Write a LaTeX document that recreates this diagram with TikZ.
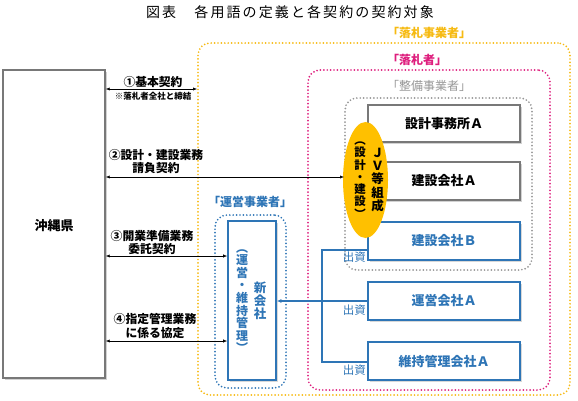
\documentclass[tikz,border=0pt]{standalone}
\usepackage{fontspec}
\setmainfont{Noto Sans CJK JP}
\usetikzlibrary{arrows.meta,shapes.geometric,shadows}
\definecolor{corange}{RGB}{246,186,18}
\definecolor{cmag}{RGB}{222,30,125}
\definecolor{cgray}{RGB}{150,150,150}
\definecolor{cblue}{RGB}{46,117,182}
\definecolor{cyel}{RGB}{255,192,0}
\definecolor{cbox}{RGB}{120,120,120}
\tikzset{
  dotline/.style={line width=1.9pt, dash pattern=on 0pt off 3.4pt, line cap=round, rounded corners=12pt, inner sep=0pt},
  gbox/.style={draw=cbox, line width=1.4pt, fill=white, inner sep=0pt,
     drop shadow={shadow xshift=1.5pt, shadow yshift=-1.5pt, fill=black!35}},
  bbox/.style={draw=cblue, line width=1.8pt, fill=white, inner sep=0pt, text=cblue,
     drop shadow={shadow xshift=1.5pt, shadow yshift=-1.5pt, fill=black!30}},
  boxtxt/.style={font=\bfseries\fontsize{13}{15}\selectfont},
  lbl/.style={font=\bfseries\fontsize{11.8}{13}\selectfont, inner sep=0pt},
  dbl/.style={{Latex[length=4pt,width=3.2pt]}-{Latex[length=4pt,width=3.2pt]}, line width=0.6pt},
  bline/.style={draw=cblue, line width=1.1pt},
  vtxt/.style={align=center, inner sep=0pt},
  ttl/.style={inner sep=0pt, anchor=west, font=\bfseries\fontsize{12}{14}\selectfont},
  shusshi/.style={inner sep=0pt, anchor=north east, text=cblue, font=\fontsize{11.5}{12}\selectfont}
}
\begin{document}
\begin{tikzpicture}[x=1pt,y=-1pt]
\useasboundingbox (0,0) rectangle (578,400);

% title
\node[inner sep=0pt, font=\fontsize{14}{16}\selectfont\addfontfeature{LetterSpace=15}] (title) at (290,12) {図表　各用語の定義と各契約の契約対象};

% group frames
\node[dotline, draw=corange, minimum width=372pt, minimum height=352pt] (rakusatsujigyo) at (384,219) {};
\node[dotline, draw=cmag, minimum width=242pt, minimum height=320pt] (rakusatsusha) at (429,230) {};
\node[dotline, draw=cgray, minimum width=187pt, minimum height=172pt] (seibi) at (438.5,184) {};
\node[dotline, draw=cblue, minimum width=71pt, minimum height=173pt] (unei) at (250.5,301.5) {};

% group labels
\node[ttl, text=corange] (l1) at (387,33) {「落札事業者」};
\node[ttl, text=cmag] (l2) at (387,60) {「落札者」};
\node[ttl, text=cgray, font=\fontsize{12}{14}\selectfont] (l3) at (387,86) {「整備事業者」};
\node[ttl, text=cblue, anchor=center] (l4) at (250,202) {「運営事業者」};

% left box
\node[gbox, minimum width=102pt, minimum height=308pt] (okinawa) at (54,224) {};
\node[boxtxt, inner sep=0pt] (okinawaT) at (54,226) {沖縄県};

% company boxes
\node[gbox, boxtxt, minimum width=152pt, minimum height=37pt] (sekkeiA) at (444,123.5) {設計事務所Ａ};
\node[gbox, boxtxt, minimum width=152pt, minimum height=38pt] (kensetsuA) at (444,181) {建設会社Ａ};
\node[bbox, boxtxt, minimum width=152pt, minimum height=38pt] (kensetsuB) at (444,241) {建設会社Ｂ};
\node[bbox, boxtxt, minimum width=152pt, minimum height=38pt] (uneiA) at (444,301) {運営会社Ａ};
\node[bbox, boxtxt, minimum width=152pt, minimum height=38pt] (ijiA) at (444,361) {維持管理会社Ａ};

% JV ellipse
\node[ellipse, fill=cyel, minimum width=45pt, minimum height=116pt, inner sep=0pt] (jv) at (365.5,180) {};
\node[vtxt, font=\bfseries\fontsize{11.5}{12.3}\selectfont] (jvL) at (360,180) {︵\\設\\計\\・\\建\\設\\︶};
\node[vtxt, font=\bfseries\fontsize{12.5}{13.2}\selectfont] (jvR) at (377.5,180) {Ｊ\\Ｖ\\等\\組\\成};

% new company
\node[bbox, minimum width=48pt, minimum height=159pt, line width=1.6pt] (shinkaisha) at (252,300.5) {};
\node[vtxt, text=cblue, font=\bfseries\fontsize{12}{12.6}\selectfont] (skL) at (242,301) {︵\\運\\営\\・\\維\\持\\管\\理\\︶};
\node[vtxt, text=cblue, font=\bfseries\fontsize{12.5}{13}\selectfont] (skR) at (260,301) {新\\会\\社};

% contracts
\draw[dbl] (okinawa.east |- 0,89) -- (rakusatsujigyo.west |- 0,89);
\node[lbl] (c1) at (153,82) {①基本契約};
\node[inner sep=0pt, font=\bfseries\fontsize{8.5}{10}\selectfont] (c1b) at (153,96) {※落札者全社と締結};

\draw[dbl] (okinawa.east |- 0,177) -- (seibi.west |- 0,177);
\node[lbl] (c2) at (156,155) {②設計・建設業務};
\node[lbl] (c2b) at (156,168) {請負契約};

\draw[dbl] (okinawa.east |- 0,256) -- (shinkaisha.west |- 0,256);
\node[lbl] (c3) at (152,236) {③開業準備業務};
\node[lbl] (c3b) at (152,249) {委託契約};

\draw[dbl] (okinawa.east |- 0,341) -- (shinkaisha.west |- 0,341);
\node[lbl] (c4) at (155,319) {④指定管理業務};
\node[lbl] (c4b) at (155,333) {に係る協定};

% investment lines
\coordinate (tTop) at (322,250);
\coordinate (tBot) at (322,362);
\draw[bline] (kensetsuB.west |- tTop) -- (tTop) -- (tBot) -- (ijiA.west |- tBot);
\draw[bline, {Latex[length=4.5pt,width=4pt]}-] (shinkaisha.east |- uneiA.west) -- (uneiA.west);
\node[shusshi] (s1) at (366,252) {出資};
\node[shusshi] (s2) at (366,305) {出資};
\node[shusshi] (s3) at (366,365) {出資};
\end{tikzpicture}
\end{document}
